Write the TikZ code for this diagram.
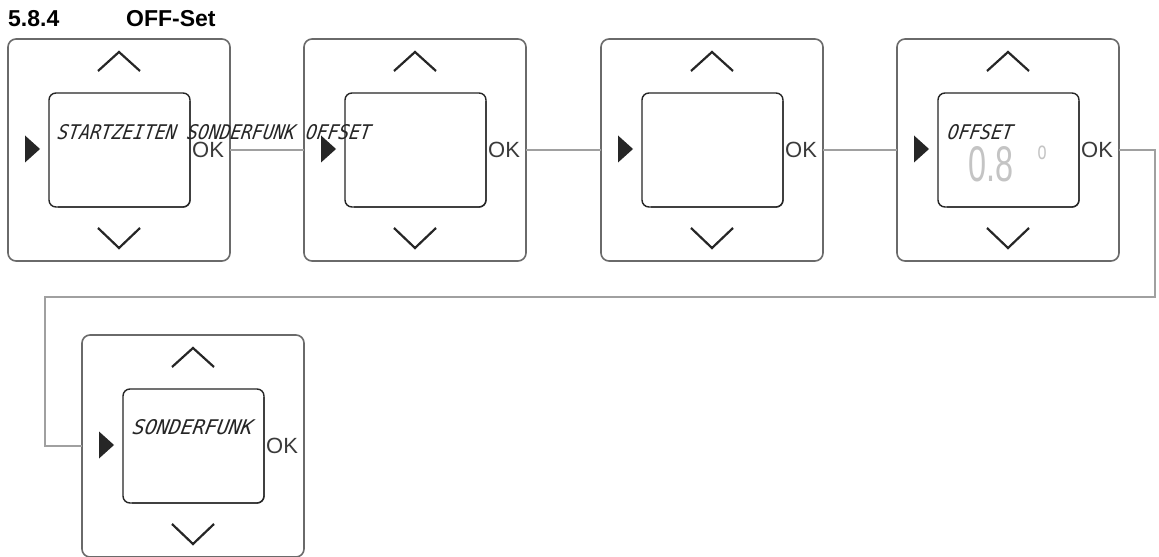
\documentclass[tikz,border=0pt]{standalone}
\usepackage{fontspec}
\setmainfont{Liberation Sans}
\newfontfamily\lcd[FakeSlant=0.18]{DejaVu Sans Mono}
\definecolor{frame}{HTML}{6A6A6A}
\definecolor{ink}{HTML}{262626}
\definecolor{wire}{HTML}{A0A0A0}
\definecolor{oktext}{HTML}{3A3A3A}
\definecolor{dim}{HTML}{C4C4C4}
\tikzset{
  panel/.style={draw=frame, line width=1.6bp, rounded corners=8bp, minimum width=222bp, minimum height=222bp, inner sep=0pt, outer sep=0pt},
  screen/.style={draw=ink, line width=1.4bp, rounded corners=7bp, minimum width=141bp, minimum height=114bp, inner sep=0pt, outer sep=0pt},
  chev/.style={draw=ink, line width=2.2bp, line join=miter},
  tri/.style={fill=ink},
  oklabel/.style={anchor=west, inner sep=0pt, text=oktext, font=\fontsize{22bp}{22bp}\selectfont},
  lcdtext/.style={anchor=south west, inner sep=0pt, text=ink},
  wireline/.style={draw=wire, line width=2bp},
  titlefont/.style={anchor=base west, inner sep=0pt, font=\fontsize{23bp}{23bp}\selectfont\bfseries}
}
% #1 name, #2 left, #3 top
\newcommand\mypanel[3]{%
  \node[panel] (#1) at ({#2+111},{#3+111}) {};
  \node[screen] (#1s) at ({#2+111.5},{#3+111}) {};
  \draw[draw=ink, line width=1.3bp, rounded corners=7bp] ({#2+182},{#3+62}) -- ({#2+182},{#3+168}) -- ({#2+50},{#3+168});
  \draw[chev] ({#2+90},{#3+32}) -- ({#2+111},{#3+13}) -- ({#2+132},{#3+32});
  \draw[chev] ({#2+90},{#3+189}) -- ({#2+111},{#3+209}) -- ({#2+132},{#3+189});
  \fill[tri] ({#2+17},{#3+96.5}) -- ({#2+32},{#3+110}) -- ({#2+17},{#3+123.5}) -- cycle;
  \node[oklabel] (#1ok) at ({#2+184},{#3+111}) {OK};
}
\begin{document}
\begin{tikzpicture}[x=1bp,y=-1bp]
\useasboundingbox[fill=white] (0,0) rectangle (1159,557);
\node[titlefont] (num) at (8,27) {5.8.4};
\node[titlefont] (ttl) at (126,27) {OFF-Set};

\mypanel{p1}{8}{39}
\mypanel{p2}{304}{39}
\mypanel{p3}{601}{39}
\mypanel{p4}{897}{39}
\mypanel{p5}{82}{335}

% LCD texts
\node[lcdtext] (t1) at (57,140) {\resizebox{313bp}{15bp}{\lcd\itshape STARTZEITEN SONDERFUNK OFFSET}};
\node[lcdtext] (t4) at (947,140) {\resizebox{65bp}{15bp}{\lcd\itshape OFFSET}};
\node[lcdtext] (t5) at (132,435) {\resizebox{120bp}{15bp}{\lcd\itshape SONDERFUNK}};
\node[lcdtext, text=dim] (v4) at (968,182) {\resizebox{45bp}{35bp}{0.8}};
\node[inner sep=0pt, text=dim] (deg) at (1042,153) {\scalebox{0.9}[1.4]{\fontsize{18bp}{18bp}\selectfont o}};

% connectors
\draw[wireline] (p1.east) -- (p2.west);
\draw[wireline] (p2.east) -- (p3.west);
\draw[wireline] (p3.east) -- (p4.west);
\coordinate (r) at (1155,297);
\coordinate (l) at (45,297);
\draw[wireline] (p4.east) -| (r) -- (l) |- (p5.west);
\end{tikzpicture}
\end{document}
